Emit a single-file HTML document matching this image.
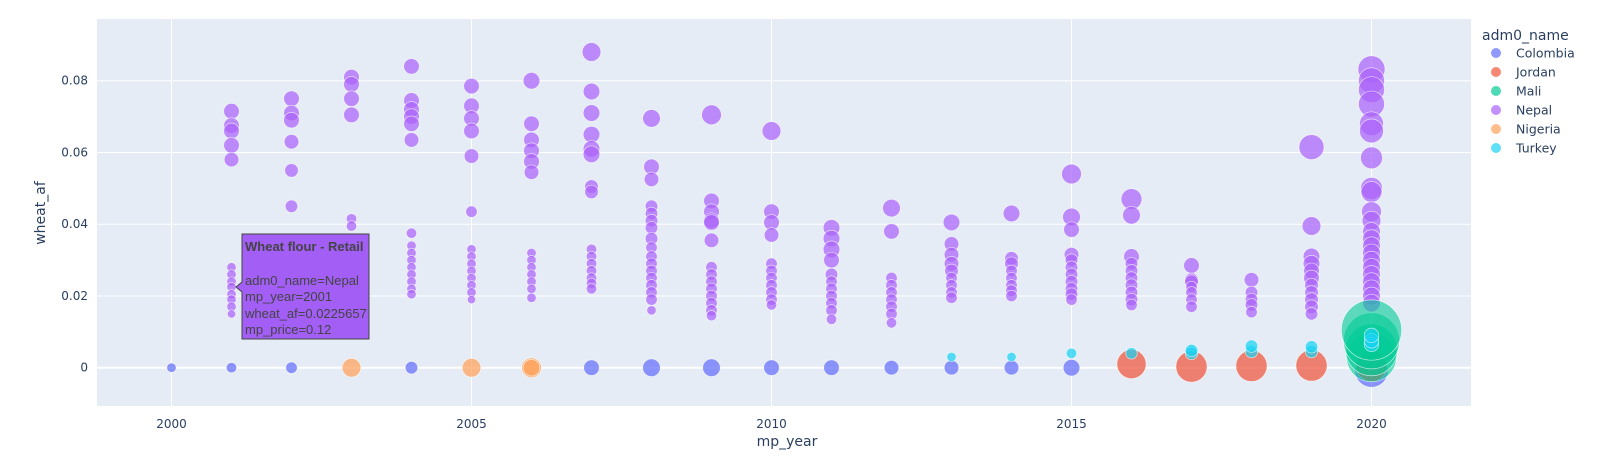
<!DOCTYPE html>
<html><head><meta charset="utf-8"><style>
body{margin:0;background:#fff;}
svg{display:block;font-family:"DejaVu Sans","Liberation Sans",sans-serif;}
</style></head><body>
<svg id="chart" width="1619" height="463">
<rect x="97" y="19" width="1374" height="387" fill="#e5ecf6"/>
<g id="grid"></g>
<g id="marks"></g>
<g id="ticks" fill="#2a3f5f" font-size="12"></g>
<text x="787" y="446" text-anchor="middle" font-size="14" fill="#2a3f5f">mp_year</text>
<text x="45" y="213" text-anchor="middle" font-size="14" fill="#2a3f5f" transform="rotate(-90 45 213)">wheat_af</text>
<g id="legend" font-size="12" fill="#2a3f5f"></g>
<g font-family="Liberation Sans, Arial, sans-serif">
<path d="M242,234 H369 V339 H242 V292 L236,287 L242,282 Z" fill="#a25ef5" stroke="#444" stroke-width="1"/>
<text x="245" y="251" font-size="13" font-weight="bold" fill="#444">Wheat flour - Retail</text>
<text x="245" y="285" font-size="13" fill="#444">adm0_name=Nepal</text>
<text x="245" y="301" font-size="13" fill="#444">mp_year=2001</text>
<text x="245" y="318" font-size="13" fill="#444">wheat_af=0.0225657</text>
<text x="245" y="334" font-size="13" fill="#444">mp_price=0.12</text>
</g>
</svg>
<script>
const countries=["Colombia","Jordan","Mali","Nepal","Nigeria","Turkey"];
const colors=["#636efa","#EF553B","#00cc96","#ab63fa","#FFA15A","#19d3f3"];
const xTicks=[2000,2005,2010,2015,2020];
const yTicks=[0,0.02,0.04,0.06,0.08];
const yTickLabels=["0","0.02","0.04","0.06","0.08"];
// [year, wheat_af, size]
const colombia=[[2000,0,9],[2001,0,10],[2002,0,11],[2004,0,12],[2007,0,15],[2008,0,17],[2009,0,17],[2010,0,15],[2011,0,15],[2012,0,14],[2013,0,14],[2014,0,14],[2015,0,16],[2020,-0.0008,32]];
const nigeria=[[2003,0,18],[2005,0,18],[2006,0,19],[2006,0,16]];
const jordan=[[2016,0.001,28],[2017,0.0003,30],[2018,0.0005,30],[2019,0.0006,30],[2020,0.0005,30]];
const turkey=[[2013,0.003,9],[2014,0.003,9],[2015,0.004,10],[2016,0.004,11],[2017,0.004,12],[2017,0.0048,12],[2018,0.0045,12],[2018,0.006,12],[2019,0.0045,12],[2019,0.0058,12],[2020,0.0065,14],[2020,0.0075,14],[2020,0.009,14]];
const mali=[[2020,0.003,48],[2020,0.005,50],[2020,0.0075,54],[2020,0.0105,58]];
const nepal=[
[2001,0.0715,15],[2001,0.0675,15],[2001,0.066,15],[2001,0.062,15],[2001,0.058,14],
[2001,0.028,9],[2001,0.026,9],[2001,0.024,9],[2001,0.0225,9],[2001,0.0205,9],[2001,0.019,9],[2001,0.017,9],[2001,0.015,8],
[2002,0.075,15],[2002,0.071,15],[2002,0.069,15],[2002,0.063,14],[2002,0.055,13],[2002,0.045,12],
[2003,0.081,15],[2003,0.079,15],[2003,0.075,15],[2003,0.0705,15],[2003,0.0415,10],[2003,0.0395,10],
[2004,0.084,15],[2004,0.0745,15],[2004,0.072,15],[2004,0.070,15],[2004,0.068,15],[2004,0.0635,14],
[2004,0.0375,10],[2004,0.034,9],[2004,0.032,9],[2004,0.030,9],[2004,0.028,9],[2004,0.026,9],[2004,0.024,9],[2004,0.022,9],[2004,0.0205,9],
[2005,0.0785,15],[2005,0.073,15],[2005,0.0695,15],[2005,0.066,15],[2005,0.059,14],[2005,0.0435,11],
[2005,0.033,9],[2005,0.031,9],[2005,0.029,9],[2005,0.027,9],[2005,0.025,9],[2005,0.023,9],[2005,0.021,9],[2005,0.019,8],
[2006,0.080,16],[2006,0.068,15],[2006,0.0635,15],[2006,0.0605,15],[2006,0.0575,15],[2006,0.0545,14],
[2006,0.032,9],[2006,0.030,9],[2006,0.028,9],[2006,0.026,9],[2006,0.024,9],[2006,0.022,9],[2006,0.0195,9],
[2007,0.088,18],[2007,0.077,16],[2007,0.071,16],[2007,0.065,16],[2007,0.061,16],[2007,0.0595,16],[2007,0.0505,13],[2007,0.049,13],
[2007,0.033,10],[2007,0.031,10],[2007,0.029,10],[2007,0.027,10],[2007,0.025,10],[2007,0.0235,10],[2007,0.022,10],
[2008,0.0695,17],[2008,0.056,15],[2008,0.0525,14],[2008,0.045,12],[2008,0.043,12],[2008,0.041,12],[2008,0.039,12],[2008,0.036,12],[2008,0.0335,11],[2008,0.031,11],[2008,0.029,11],[2008,0.027,11],[2008,0.025,11],[2008,0.023,11],[2008,0.021,11],[2008,0.019,11],[2008,0.016,9],
[2009,0.0705,19],[2009,0.0465,15],[2009,0.0435,15],[2009,0.041,15],[2009,0.0405,15],[2009,0.0355,14],
[2009,0.028,11],[2009,0.026,11],[2009,0.024,11],[2009,0.022,11],[2009,0.020,11],[2009,0.018,11],[2009,0.016,11],[2009,0.0145,10],
[2010,0.066,18],[2010,0.0435,15],[2010,0.0405,15],[2010,0.037,14],
[2010,0.029,11],[2010,0.027,11],[2010,0.025,11],[2010,0.023,11],[2010,0.021,11],[2010,0.019,11],[2010,0.0175,10],
[2011,0.039,16],[2011,0.036,16],[2011,0.033,16],[2011,0.030,15],
[2011,0.026,12],[2011,0.024,11],[2011,0.022,11],[2011,0.020,11],[2011,0.018,11],[2011,0.016,11],[2011,0.0135,10],
[2012,0.0445,17],[2012,0.038,15],
[2012,0.025,11],[2012,0.023,11],[2012,0.021,11],[2012,0.019,11],[2012,0.017,11],[2012,0.015,11],[2012,0.0125,10],
[2013,0.0405,16],[2013,0.0345,14],[2013,0.0315,14],[2013,0.029,14],[2013,0.027,13],
[2013,0.025,11],[2013,0.023,11],[2013,0.021,11],[2013,0.0195,11],
[2014,0.043,16],[2014,0.0305,13],[2014,0.029,13],
[2014,0.027,11],[2014,0.025,11],[2014,0.023,11],[2014,0.0215,11],[2014,0.020,11],
[2015,0.054,19],[2015,0.042,17],[2015,0.0385,15],[2015,0.0315,14],[2015,0.030,12],
[2015,0.028,12],[2015,0.026,12],[2015,0.024,12],[2015,0.022,12],[2015,0.0205,12],[2015,0.019,11],
[2016,0.047,20],[2016,0.0425,17],[2016,0.031,15],[2016,0.029,12],[2016,0.027,12],[2016,0.025,12],[2016,0.023,12],[2016,0.021,12],[2016,0.019,12],[2016,0.0175,11],
[2017,0.0285,15],[2017,0.0245,13],[2017,0.024,13],[2017,0.0225,11],[2017,0.021,11],[2017,0.019,11],[2017,0.017,11],
[2018,0.0245,14],[2018,0.021,12],[2018,0.019,12],[2018,0.0175,12],[2018,0.0155,11],
[2019,0.0615,24],[2019,0.0395,18],[2019,0.031,16],[2019,0.029,16],[2019,0.027,15],[2019,0.025,15],
[2019,0.023,13],[2019,0.021,13],[2019,0.019,13],[2019,0.017,13],[2019,0.015,12],
[2020,0.0832,26],[2020,0.080,25],[2020,0.0775,25],[2020,0.0735,25],[2020,0.068,23],[2020,0.066,23],[2020,0.0585,21],[2020,0.050,21],[2020,0.049,20],[2020,0.0435,19],[2020,0.041,18],
[2020,0.038,17],[2020,0.036,17],[2020,0.034,17],[2020,0.032,17],[2020,0.030,17],[2020,0.028,17],[2020,0.026,17],[2020,0.024,17],[2020,0.022,17],[2020,0.020,17],[2020,0.018,17]
];
const series=[colombia,jordan,mali,nepal,nigeria,turkey];
const drawOrder=[0,4,3,1,2,5];

const NS="http://www.w3.org/2000/svg";
const X0=97,X1=1471,Y0=19,Y1=406;
function xScale(yr){return 171.5+(yr-2000)*60;}
function yScale(v){return 367.7-v*3587;}
function mk(tag,attrs,parent){const e=document.createElementNS(NS,tag);for(const k in attrs)e.setAttribute(k,attrs[k]);parent.appendChild(e);return e;}
const grid=document.getElementById('grid'),ticks=document.getElementById('ticks'),marks=document.getElementById('marks'),legend=document.getElementById('legend');
xTicks.forEach(t=>{
  const l=mk('line',{x1:xScale(t),x2:xScale(t),y1:Y0,y2:Y1,stroke:'#fff','stroke-width':1},grid);
  
  
  const tx=mk('text',{x:xScale(t),y:428,'text-anchor':'middle'},ticks);
  tx.textContent=t;
  
  
});
yTicks.forEach((t,i)=>{
  const l=mk('line',{x1:X0,x2:X1,y1:yScale(t),y2:yScale(t),stroke:'#fff','stroke-width':t===0?2:1},grid);
  
  
  const tx=mk('text',{x:88,y:yScale(t)+4,'text-anchor':'end'},ticks);
  tx.textContent=yTickLabels[i];
  
  
});
drawOrder.forEach(ci=>{
  series[ci].forEach(p=>{
    const c=mk('circle',{cx:xScale(p[0]),cy:yScale(p[1]),r:p[2]/2*1.04,fill:colors[ci],'fill-opacity':ci===2?0.6:0.72,stroke:'#fff','stroke-opacity':0.7,'stroke-width':0.7},marks);
    
    
  });
});
const tt=mk('text',{x:1482,y:40,'font-size':14},legend);
tt.textContent='adm0_name';


countries.forEach((n,i)=>{
  const y=53+i*19;
  const g=mk('g',{},legend);
  
  
  mk('circle',{cx:1496,cy:y,r:5,fill:colors[i],'fill-opacity':0.7},g);
  const t=mk('text',{x:1516,y:y+4.5,'font-size':12.5},g);
  t.textContent=n;
});
</script>
</body></html>
